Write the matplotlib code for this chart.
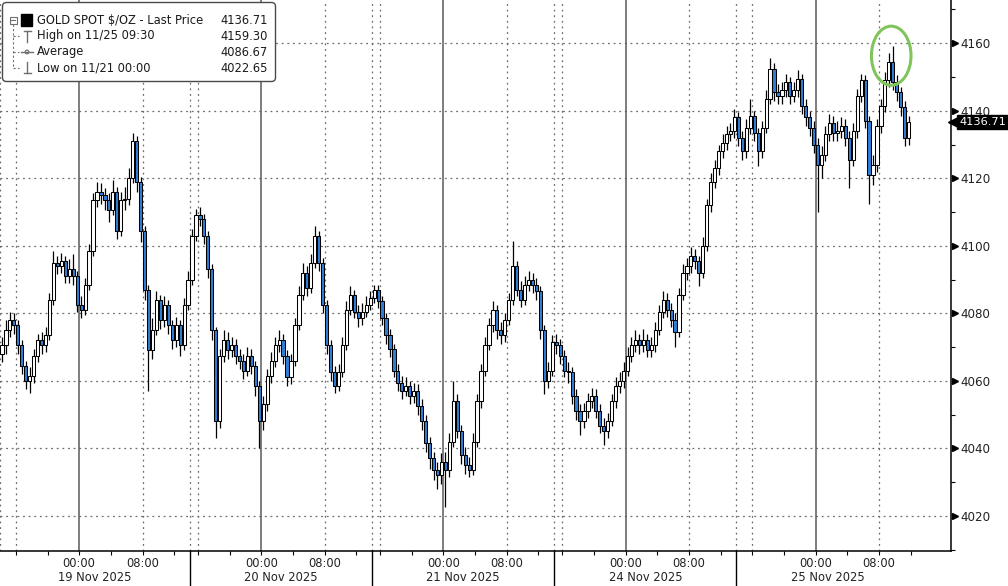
from datetime import datetime, timedelta

import matplotlib

matplotlib.use("Agg")
import matplotlib.pyplot as plt
import matplotlib.transforms as mtransforms
import numpy as np
from matplotlib.patches import Circle, Ellipse, FancyBboxPatch, Rectangle


SERIES_NAME = "GOLD SPOT $/OZ - Last Price"
SESSION_DAYS = ["19 Nov 2025", "20 Nov 2025", "21 Nov 2025", "24 Nov 2025", "25 Nov 2025"]
SESSION_OPENS = ["2025-11-18 14:00", "2025-11-19 15:00", "2025-11-20 15:00",
                 "2025-11-23 15:00", "2025-11-24 14:00"]
SESSION_HOURS = [24, 23, 23, 23, 23]
BAR_HOURS = 0.5
AVERAGE_PRICE = 4086.67
FIRST_OPEN = 4068.0

# 30-minute bars
CLOSES = [
    4070.5, 4075, 4078, 4076.5, 4070.5, 4064.5, 4060, 4061.5, 4067.5, 4072,
    4070.5, 4073.5, 4084, 4095, 4094, 4095.5, 4091, 4093, 4091, 4082.5,
    4081, 4088.5, 4098.5, 4113.5, 4116, 4115, 4113.5, 4110.5, 4116, 4104.5,
    4113.5, 4114, 4120, 4131, 4119, 4104.5, 4087, 4069, 4075, 4084,
    4078, 4082.5, 4076.5, 4072, 4076.5, 4070.5, 4082.5, 4090,
    4103, 4109, 4108, 4103, 4093, 4075, 4048, 4067.5, 4072, 4069,
    4070.5, 4067.5, 4066, 4063, 4067.5, 4064.5, 4058.5, 4048, 4053, 4061.5,
    4066, 4070.5, 4072, 4067.5, 4061, 4066, 4076.5, 4085.5, 4092, 4087.5,
    4095, 4103, 4095, 4082.5, 4070.5, 4062.5, 4058.5, 4062.5, 4070.5, 4081,
    4085.5, 4080.5, 4078.5, 4080.5, 4082.5, 4084.5,
    4087, 4083.5, 4078.5, 4073.5, 4069.5, 4063, 4059.5, 4057, 4058.5, 4055.5,
    4057, 4052.5, 4048, 4041.5, 4037, 4033.5, 4032, 4036, 4033.5, 4042,
    4054, 4045, 4038, 4035, 4033.5, 4042, 4054, 4063, 4070.5, 4076.5,
    4081, 4075, 4073.5, 4078, 4084, 4094, 4087, 4084, 4088.5, 4090,
    4088.5, 4086.5, 4075, 4060, 4063, 4071.5,
    4070.5, 4067.5, 4063, 4062.5, 4055.5, 4051, 4048, 4051, 4054, 4055.5,
    4051, 4046.5, 4045, 4048, 4054, 4058.5, 4060, 4063, 4067.5, 4070.5,
    4072, 4070.5, 4072, 4069, 4070.5, 4075, 4080.5, 4084, 4081, 4078,
    4074.5, 4085.5, 4092, 4094, 4097, 4095.5, 4092, 4100, 4112, 4119,
    4123, 4128, 4130.5, 4133, 4134, 4138,
    4132, 4128, 4135, 4138.5, 4133.5, 4128, 4135, 4143.5, 4152.5, 4145.5,
    4144.5, 4146, 4148.5, 4144.5, 4146, 4149.5, 4141.5, 4138, 4135, 4130,
    4124, 4127, 4133, 4136.5, 4133.5, 4134, 4135.5, 4132, 4125.5, 4134,
    4144.5, 4149, 4137, 4121, 4124, 4135.5, 4141.5, 4149, 4154.5, 4148.5,
    4145.5, 4141, 4132, 4136.71,
]

HIGHS = [
    4073, 4078, 4080.5, 4080, 4078, 4072, 4066, 4064, 4069.5, 4074,
    4074.5, 4076, 4086, 4098.5, 4097, 4098, 4097, 4096, 4097.5, 4092.5,
    4085, 4090.5, 4100.5, 4115.5, 4119, 4118.5, 4117, 4115.5, 4119.5, 4117.5,
    4116, 4117.5, 4123, 4133.5, 4132.5, 4120.5, 4106, 4088.5, 4078.5, 4086.5,
    4085.5, 4085, 4084, 4078, 4079, 4078, 4084.5, 4092.5,
    4105, 4111, 4111.5, 4109.5, 4104.5, 4094.5, 4076, 4069.5, 4075, 4074.5,
    4073, 4072.5, 4069.5, 4068, 4070, 4069.5, 4066, 4060, 4055.5, 4063.5,
    4068.5, 4073, 4075, 4074, 4069, 4068, 4078.5, 4088, 4095, 4094,
    4097.5, 4106, 4104.5, 4096.5, 4084, 4072, 4064.5, 4065, 4073, 4083.5,
    4088, 4087, 4082.5, 4083, 4085, 4086.5,
    4088.5, 4088.5, 4085, 4080, 4075.5, 4071, 4065, 4061.5, 4061, 4060,
    4059.5, 4059, 4054.5, 4050, 4043.5, 4039, 4036, 4038.5, 4039, 4044.5,
    4060, 4056, 4047, 4040.5, 4037.5, 4044.5, 4056, 4065, 4073, 4078.5,
    4083.5, 4082.5, 4077.5, 4080, 4086, 4101.5, 4095.5, 4089.5, 4091, 4092.5,
    4092, 4090.5, 4088, 4076.5, 4065.5, 4073.5,
    4074, 4072.5, 4069, 4065.5, 4064, 4057.5, 4053, 4053.5, 4056.5, 4058,
    4057.5, 4053, 4049, 4050.5, 4056, 4061, 4062.5, 4065.5, 4070, 4073,
    4075, 4074, 4075.5, 4074, 4073, 4077.5, 4082.5, 4086.5, 4086, 4083,
    4080, 4087.5, 4094.5, 4096.5, 4099.5, 4099, 4097, 4102.5, 4114, 4121.5,
    4125.5, 4130, 4133, 4135.5, 4136.5, 4140.5,
    4139.5, 4134, 4137.5, 4143.5, 4140, 4135, 4137, 4146, 4155.5, 4154,
    4148, 4148.5, 4151, 4150, 4148.5, 4152, 4151, 4143.5, 4140, 4137,
    4132, 4129.5, 4135.5, 4139, 4138.5, 4137, 4138, 4137.5, 4134, 4136.5,
    4146.5, 4151, 4150.5, 4138.5, 4127, 4137.5, 4143.5, 4151.5, 4157, 4159.3,
    4150.5, 4147, 4143, 4138.5,
]

LOWS = [
    4065.5, 4068, 4073, 4074, 4068, 4062, 4057.5, 4056.5, 4059.5, 4065.5,
    4068, 4068.5, 4072, 4082.5, 4091.5, 4092, 4089, 4089, 4088.5, 4080.5,
    4078.5, 4079.5, 4087, 4097, 4111.5, 4112.5, 4110.5, 4107, 4109, 4102,
    4103, 4110.5, 4112, 4118.5, 4116, 4101, 4084, 4057, 4066.5, 4073.5,
    4075.5, 4076, 4074, 4069.5, 4070, 4067.5, 4069, 4081,
    4088.5, 4101.5, 4106, 4100.5, 4090.5, 4072, 4043, 4046, 4065.5, 4066.5,
    4067, 4065, 4063.5, 4060.5, 4061.5, 4062, 4055.5, 4040, 4045.5, 4051,
    4059.5, 4064, 4068.5, 4065, 4058.5, 4059, 4064.5, 4075, 4084, 4085,
    4086, 4093.5, 4092.5, 4080, 4068, 4060, 4056.5, 4057, 4061, 4069,
    4079.5, 4078.5, 4076, 4076.5, 4079, 4081,
    4083, 4081.5, 4076.5, 4071, 4067, 4061, 4057, 4054.5, 4055.5, 4053,
    4053.5, 4050, 4045.5, 4039, 4034, 4030.5, 4028, 4029.5, 4022.65, 4031.5,
    4040.5, 4043, 4035.5, 4032.5, 4031.5, 4032, 4040.5, 4052, 4061.5, 4069,
    4074.5, 4072.5, 4071, 4071.5, 4076.5, 4082.5, 4085, 4082, 4082.5, 4086.5,
    4086, 4084, 4072.5, 4056, 4058, 4061.5,
    4068, 4065, 4061, 4059.5, 4053, 4048.5, 4044, 4046, 4049, 4052,
    4049, 4044.5, 4041, 4043, 4046.5, 4052, 4056.5, 4058, 4061.5, 4065.5,
    4068.5, 4068, 4068.5, 4067, 4067, 4068.5, 4073.5, 4078.5, 4079, 4076,
    4070, 4073, 4084, 4090, 4092, 4093, 4088, 4090.5, 4098.5, 4110,
    4117, 4121, 4126, 4128.5, 4131, 4132,
    4129.5, 4125.5, 4126, 4133, 4131, 4123.5, 4126, 4133.5, 4142, 4143,
    4142, 4142, 4144, 4142, 4142.5, 4144, 4139, 4135.5, 4132.5, 4127.5,
    4110, 4120, 4125, 4131, 4131, 4131, 4132, 4129.5, 4117, 4123.5,
    4132, 4142.5, 4135, 4112.5, 4118, 4122, 4133.5, 4139.5, 4147, 4146,
    4143, 4138.5, 4129.5, 4130,
]

Y_MAJOR = [4020, 4040, 4060, 4080, 4100, 4120, 4140, 4160]


def session_table():
    starts = np.concatenate([[0], np.cumsum(SESSION_HOURS)[:-1]])
    opens = [datetime.strptime(s, "%Y-%m-%d %H:%M") for s in SESSION_OPENS]
    return list(zip(starts, opens, SESSION_HOURS))


def bar_time(h, sessions):
    for start, opened, length in sessions:
        if h < start + length:
            return opened + timedelta(hours=float(h - start))
    start, opened, _ = sessions[-1]
    return opened + timedelta(hours=float(h - start))


def main():
    sessions = session_table()
    closes = np.array(CLOSES, dtype=float)
    highs = np.array(HIGHS, dtype=float)
    lows = np.array(LOWS, dtype=float)
    opens = np.concatenate([[FIRST_OPEN], closes[:-1]])
    x = np.arange(len(closes)) * BAR_HOURS + BAR_HOURS / 2

    fig = plt.figure(figsize=(10.08, 5.86), dpi=100)
    ax = fig.add_axes([0, 35 / 586, 951 / 1008, 551 / 586])
    ax.set_xlim(0, 120.1)
    ax.set_ylim(4009.6, 4172.8)

    grid_color = "#6e6e6e"
    for level in Y_MAJOR:
        ax.axhline(level, color=grid_color, lw=0.9, ls=(0, (1.5, 3)), zorder=1)

    # time axis: ticks every 4h, gridlines at 16:00 / 00:00 / 08:00
    tick_pos, tick_lab = [], []
    for start, opened, length in sessions:
        ax.axvline(start, color=grid_color, lw=0.9, ls=(0, (1.5, 3)), zorder=1)
        if start > 0:
            ax.axvline(start, ymin=-0.0635, ymax=0, color="black", lw=1.0, clip_on=False)
        for k in range(length):
            t = opened + timedelta(hours=k)
            if t.hour % 4:
                continue
            tick_pos.append(start + k)
            if t.hour == 0:
                ax.axvline(start + k, color="#5a5a5a", lw=1.1, zorder=1)
            elif t.hour in (8, 16):
                ax.axvline(start + k, color=grid_color, lw=0.9, ls=(0, (1.5, 3)), zorder=1)
            if t.hour in (0, 8):
                tick_lab.append((start + k, t.strftime("%H:%M")))

    bottom = mtransforms.blended_transform_factory(ax.transData, ax.transAxes)
    for pos, lab in tick_lab:
        ax.text(pos, -0.022, lab, transform=bottom, ha="center", va="center",
                fontsize=8.3, color="#222222")
    for (start, _, length), day in zip(sessions, SESSION_DAYS):
        ax.text(start + length / 2, -0.049, day, transform=bottom, ha="center",
                va="center", fontsize=8.3, color="#222222")

    ax.set_xticks(tick_pos)
    ax.set_xticklabels([])
    ax.tick_params(axis="x", length=3, width=0.8, direction="out", color="black")

    # candles
    up = closes >= opens
    faces = np.where(up, "white", "#2f7ed8")
    ax.vlines(x, lows, highs, color="black", lw=0.9, zorder=3)
    ax.bar(x, np.maximum(np.abs(closes - opens), 0.5), bottom=np.minimum(opens, closes),
           width=0.4, color=faces, edgecolor="black", linewidth=0.75, zorder=4)

    # highlight around the session high
    hi = int(np.argmax(highs))
    ax.add_patch(Ellipse((x[hi] - 0.2, highs[hi] - 3), width=5.0, height=17.5,
                         fill=False, edgecolor="#80c45c", lw=2.2, zorder=6))

    # right axis
    for side in ("top", "left"):
        ax.spines[side].set_visible(False)
    ax.spines["right"].set_linewidth(1.1)
    ax.spines["bottom"].set_linewidth(1.1)
    ax.yaxis.tick_right()
    ax.set_yticks(Y_MAJOR)
    ax.set_yticklabels([str(v) for v in Y_MAJOR])
    ax.set_yticks([v + 10 for v in [4000] + Y_MAJOR], minor=True)
    ax.tick_params(axis="y", which="major", length=0, pad=7, labelsize=8.6,
                   labelcolor="#222222")
    ax.tick_params(axis="y", which="minor", length=3, width=0.8, direction="out")
    right = mtransforms.blended_transform_factory(ax.transAxes, ax.transData)
    ax.plot([1.0042] * len(Y_MAJOR), Y_MAJOR, ls="none", marker=">", ms=4.5,
            color="black", transform=right, clip_on=False)

    last = closes[-1]
    ax.plot([1.0035], [last], marker="<", ms=9, color="black", transform=right,
            clip_on=False, zorder=7)
    ax.text(1.0085, last, f"{last:.2f}", transform=right, ha="left", va="center",
            fontsize=8.2, color="white", zorder=8,
            bbox=dict(boxstyle="square,pad=0.2", fc="black", ec="black"))

    # legend box drawn in pixel space
    ov = fig.add_axes([0, 0, 1, 1], zorder=10)
    ov.set_xlim(0, 1008)
    ov.set_ylim(586, 0)
    ov.axis("off")
    ov.add_patch(FancyBboxPatch((2.5, 2.5), 273, 79, boxstyle="round,pad=0,rounding_size=4",
                                fc="white", ec="#4a4a4a", lw=1.0))
    rows = [20, 36, 52, 68]
    icon = "#707070"
    ov.add_patch(Rectangle((9.5, 16.5), 7, 7, fc="white", ec=icon, lw=0.8))
    ov.plot([11, 15], [20, 20], color=icon, lw=0.8)
    ov.plot([13, 13], [23.5, 68], color=icon, lw=0.8, ls=(0, (2, 2)))
    for r in rows[1:]:
        ov.plot([13, 19], [r, r], color=icon, lw=0.8, ls=(0, (2, 2)))
    ov.add_patch(Rectangle((21, 13.5), 11, 12, fc="black", ec="black"))
    ov.plot([27, 27], [31, 42], color=icon, lw=1.0)
    ov.plot([23.5, 30.5], [31, 31], color=icon, lw=1.0)
    ov.plot([21, 33], [52, 52], color=icon, lw=1.0)
    ov.add_patch(Circle((27, 52), 1.8, fc="white", ec=icon, lw=0.9))
    ov.plot([27, 27], [62, 73], color=icon, lw=1.0)
    ov.plot([23.5, 30.5], [73, 73], color=icon, lw=1.0)

    hi_time = bar_time(x[hi] - BAR_HOURS / 2, sessions)
    lo = int(np.argmin(lows))
    lo_time = bar_time(x[lo] - BAR_HOURS / 2, sessions)
    entries = [
        (SERIES_NAME, f"{last:.2f}"),
        (f"High on {hi_time:%m/%d %H:%M}", f"{highs[hi]:.2f}"),
        ("Average", f"{AVERAGE_PRICE:.2f}"),
        (f"Low on {lo_time:%m/%d %H:%M}", f"{lows[lo]:.2f}"),
    ]
    for r, (name, val) in zip(rows, entries):
        ov.text(37, r, name, ha="left", va="center", fontsize=8.3, color="#1a1a1a")
        ov.text(268, r, val, ha="right", va="center", fontsize=8.3, color="#1a1a1a")

    fig.savefig("out.png", dpi=100)
    plt.close(fig)


if __name__ == "__main__":
    main()
